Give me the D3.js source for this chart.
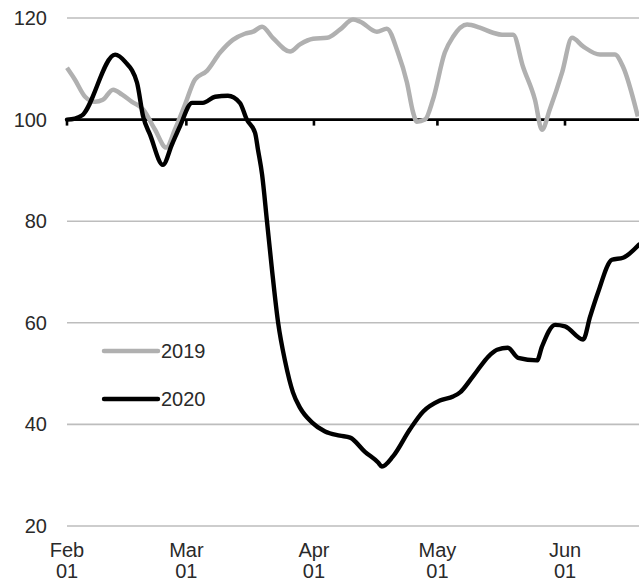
<!DOCTYPE html>
<html>
<head>
<meta charset="utf-8">
<script src="https://cdn.jsdelivr.net/npm/d3@7"></script>
<style>
  html, body { margin: 0; padding: 0; background: #fff; }
  svg { display: block; }
  text { font-family: "Liberation Sans", Arial, sans-serif; fill: #2a2a2a; }
</style>
</head>
<body>
<svg id="chart" width="639" height="582"></svg>
<script>
// Days since 2020-02-01 and index values
const days2019 = [0, 1.9, 4.4, 6.8, 8.7, 11.2, 13.4, 15.8, 18.5, 21.4, 24.1, 26.2, 28.7, 31.1, 34, 37.2, 40.3, 43.2, 45.2, 47.4, 50, 54.2, 56.6, 59.8, 63.2, 66.3, 69.5, 71.2, 75.3, 77.7, 80.4, 82.6, 84.1, 85, 87, 88.9, 91.8, 93.8, 97.2, 100.3, 103.5, 105.7, 108.4, 110.8, 113.7, 115.4, 117.3, 120.3, 122.7, 125.4, 129.5, 133.1, 135.1, 138.7];
const values2019 = [110.2, 107.9, 104.5, 103.5, 103.9, 105.9, 104.9, 103.5, 102, 98, 94.5, 98, 103, 107.9, 109.6, 113.2, 115.7, 116.9, 117.3, 118.3, 116.1, 113.4, 114.8, 115.9, 116.1, 117.7, 119.7, 119.3, 117.3, 117.9, 113.2, 107.3, 101.4, 99.6, 100, 103.9, 113.2, 116.3, 118.7, 118.1, 117.1, 116.7, 116.7, 110.4, 103.9, 98, 102, 109.3, 116.1, 114.4, 112.8, 112.8, 110.4, 100.6];

const days2020 = [0, 1.9, 3.6, 11.7, 14.1, 17, 18.5, 20.2, 23.3, 25.5, 27.5, 30.4, 33, 36, 39.1, 42, 43.7, 45.7, 46.4, 47.4, 48.6, 49.8, 51.3, 53, 54.9, 56.6, 59.5, 62.7, 66.3, 68.8, 72.4, 75.6, 76.5, 79.2, 83.3, 86.5, 90.6, 93.8, 95.5, 98.6, 102.8, 104.5, 107.1, 109.6, 114.2, 115.4, 118.6, 121, 125.4, 127.1, 129, 132.4, 135.1, 139];
const values2020 = [100, 100.2, 100.8, 112.8, 111.4, 107.3, 100.6, 97, 91.1, 95.1, 98.8, 103.3, 103.3, 104.5, 104.7, 103.3, 100, 97.4, 94.1, 89.2, 79.9, 70.5, 60, 52.4, 46.3, 43.3, 40.4, 38.6, 37.8, 37.4, 34.6, 32.5, 31.7, 33.7, 39, 42.5, 44.7, 45.5, 46.3, 49.4, 53.7, 54.7, 55.1, 53.1, 52.6, 55.3, 59.6, 59.3, 56.7, 61.2, 65.9, 72.4, 72.8, 75.4];

const yTicks = [20, 40, 60, 80, 100, 120];
const monthTicks = ["2020-02-01", "2020-03-01", "2020-04-01", "2020-05-01", "2020-06-01"];
const monthNames = ["Feb", "Mar", "Apr", "May", "Jun"];
const seriesNames = ["2019", "2020"];
const baseline = 100;

const W = 639, H = 582;
const base = new Date(2020, 1, 1).getTime();
const toDate = d => new Date(base + d * 864e5);
const parse = s => { const [y, m, d] = s.split("-").map(Number); return new Date(y, m - 1, d); };

const x = d3.scaleTime()
  .domain([parse(monthTicks[0]), parse(monthTicks[4])])
  .range([67, 565]);
const y = d3.scaleLinear().domain([20, 120]).range([526, 18]);

const svg = d3.select("#chart");

// gridlines
svg.append("g").selectAll("line")
  .data(yTicks.filter(v => v !== baseline))
  .join("line")
  .attr("x1", 67).attr("x2", W)
  .attr("y1", d => y(d)).attr("y2", d => y(d))
  .attr("stroke", "#bdbdbd").attr("stroke-width", 1.6);

// y labels
svg.append("g").selectAll("text")
  .data(yTicks)
  .join("text")
  .attr("x", 47).attr("y", d => y(d))
  .attr("dy", "0.35em")
  .attr("text-anchor", "end")
  .attr("font-size", 20)
  .text(d => d);

// baseline axis with ticks at 100
const axisY = y(baseline);
svg.append("line")
  .attr("x1", 67).attr("x2", W)
  .attr("y1", axisY).attr("y2", axisY)
  .attr("stroke", "#000").attr("stroke-width", 2.6);
svg.append("g").selectAll("line")
  .data(monthTicks)
  .join("line")
  .attr("x1", d => x(parse(d))).attr("x2", d => x(parse(d)))
  .attr("y1", axisY).attr("y2", axisY + 6)
  .attr("stroke", "#000").attr("stroke-width", 2.6);

// x labels
const xl = svg.append("g").selectAll("g")
  .data(monthTicks)
  .join("g")
  .attr("transform", d => `translate(${x(parse(d))},0)`);
xl.append("text").attr("y", 557).attr("text-anchor", "middle").attr("font-size", 20)
  .text((d, i) => monthNames[i]);
xl.append("text").attr("y", 578).attr("text-anchor", "middle").attr("font-size", 20)
  .text(d => d.slice(8, 10));

// lines
const line = d3.line()
  .x(d => x(toDate(d[0])))
  .y(d => y(d[1]))
  .curve(d3.curveMonotoneX);

svg.append("clipPath").attr("id", "clip")
  .append("rect").attr("x", 60).attr("y", 0).attr("width", W - 60).attr("height", H);

const plot = svg.append("g").attr("clip-path", "url(#clip)");
plot.append("path")
  .datum(d3.zip(days2019, values2019))
  .attr("d", line)
  .attr("fill", "none")
  .attr("stroke", "#b0b0b0")
  .attr("stroke-width", 4.5)
  .attr("stroke-linejoin", "round");
plot.append("path")
  .datum(d3.zip(days2020, values2020))
  .attr("d", line)
  .attr("fill", "none")
  .attr("stroke", "#000")
  .attr("stroke-width", 4.4)
  .attr("stroke-linejoin", "round")
  .attr("stroke-linecap", "round");

// legend
const legend = svg.append("g");
const legY = [351, 399];
const legColors = ["#b0b0b0", "#000"];
seriesNames.forEach((name, i) => {
  legend.append("line")
    .attr("x1", 104).attr("x2", 158)
    .attr("y1", legY[i]).attr("y2", legY[i])
    .attr("stroke", legColors[i]).attr("stroke-width", i === 0 ? 4.5 : 4.4)
    .attr("stroke-linecap", "round");
  legend.append("text")
    .attr("x", 161).attr("y", legY[i]).attr("dy", "0.36em")
    .attr("font-size", 20)
    .text(name);
});
</script>
</body>
</html>
